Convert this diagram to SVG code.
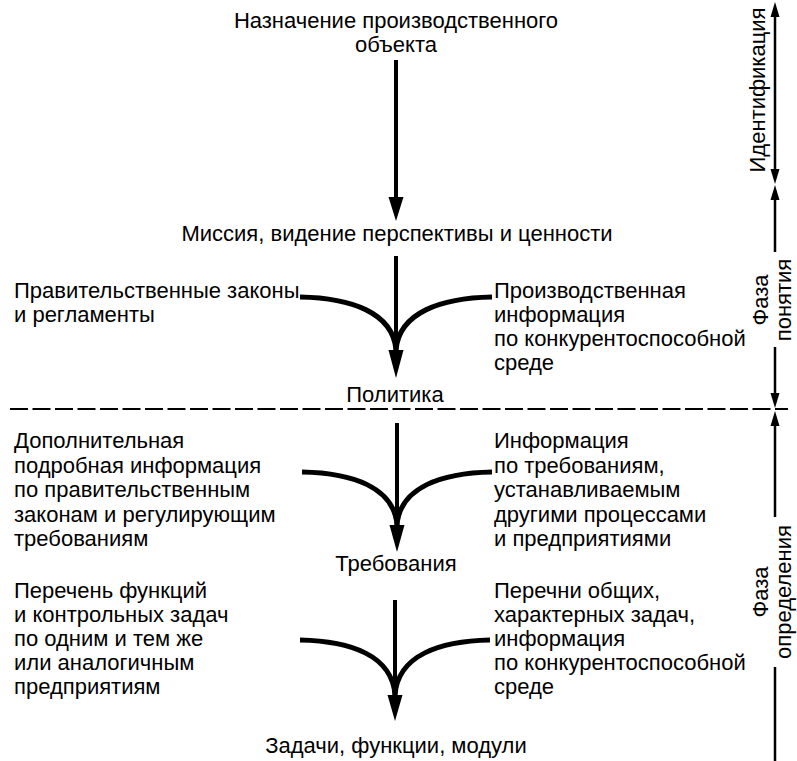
<svg xmlns="http://www.w3.org/2000/svg" width="797" height="761" viewBox="0 0 797 761">
<style>
text{font-family:"Liberation Sans",Arial,sans-serif;font-size:22px;fill:#000}
.c{text-anchor:middle}
.ln{stroke:#000;stroke-width:4;fill:none}
.cv{stroke:#000;stroke-width:5;fill:none}
.ax{stroke:#000;stroke-width:2.5;fill:none}
.hd{fill:#000}
</style>
<rect width="797" height="761" fill="#fff"/>
<g id="n-purpose"><text class="c" x="396" y="28">Назначение производственного</text><text class="c" x="396" y="52">объекта</text></g>
<g id="n-mission"><text class="c" x="397" y="241">Миссия, видение перспективы и ценности</text></g>
<g id="n-laws"><text x="14" y="298">Правительственные законы</text><text x="14" y="322">и регламенты</text></g>
<g id="n-prodinfo"><text x="494" y="298">Производственная</text><text x="494" y="322">информация</text><text x="494" y="346">по конкурентоспособной</text><text x="494" y="370">среде</text></g>
<g id="n-policy"><text class="c" x="395" y="402">Политика</text></g>
<g id="n-addinfo"><text x="14" y="448">Дополнительная</text><text x="14" y="472.5">подробная информация</text><text x="14" y="497">по правительственным</text><text x="14" y="521.5">законам и регулирующим</text><text x="14" y="546">требованиям</text></g>
<g id="n-reqinfo"><text x="494" y="448">Информация</text><text x="494" y="472.5">по требованиям,</text><text x="494" y="497">устанавливаемым</text><text x="494" y="521.5">другими процессами</text><text x="494" y="546">и предприятиями</text></g>
<g id="n-requirements"><text class="c" x="396" y="571">Требования</text></g>
<g id="n-funclist"><text x="14" y="598">Перечень функций</text><text x="14" y="622">и контрольных задач</text><text x="14" y="646">по одним и тем же</text><text x="14" y="670">или аналогичным</text><text x="14" y="694">предприятиям</text></g>
<g id="n-tasklist"><text x="494" y="598">Перечни общих,</text><text x="494" y="622">характерных задач,</text><text x="494" y="646">информация</text><text x="494" y="670">по конкурентоспособной</text><text x="494" y="694">среде</text></g>
<g id="n-tasks"><text class="c" x="396" y="753">Задачи, функции, модули</text></g>
<g id="phases">
<text class="c" transform="translate(765,90) rotate(-90)">Идентификация</text>
<text class="c" transform="translate(768,300) rotate(-90)">Фаза</text>
<text class="c" transform="translate(791,300) rotate(-90)">понятия</text>
<text class="c" transform="translate(768,592) rotate(-90)">Фаза</text>
<text class="c" transform="translate(791,592) rotate(-90)">определения</text>
</g>
<g id="connectors">
<line class="ln" x1="396" y1="60" x2="396" y2="200"/>
<polygon class="hd" points="388.5,197 403.5,197 396,221"/>
<line class="ln" x1="396" y1="256" x2="396" y2="352"/>
<path class="cv" d="M300,297 C350,298 393,312 396,350"/>
<path class="cv" d="M492,297 C442,298 399,312 396,350"/>
<polygon class="hd" points="388.5,350 403.5,350 396,378"/>
<line class="ln" x1="397" y1="423" x2="397" y2="527"/>
<path class="cv" d="M302,472 C352,473 394,487 397,525"/>
<path class="cv" d="M492,472 C442,473 400,487 397,525"/>
<polygon class="hd" points="389.5,525 404.5,525 397,552"/>
<line class="ln" x1="395" y1="600" x2="395" y2="697"/>
<path class="cv" d="M300,640 C350,641 392,655 395,695"/>
<path class="cv" d="M490,640 C440,641 398,655 395,695"/>
<polygon class="hd" points="387.5,695 402.5,695 395,721"/>
<line stroke="#000" stroke-width="2" stroke-dasharray="18 4.5" x1="10" y1="409" x2="788" y2="409"/>
<line class="ax" x1="775" y1="10" x2="775" y2="176"/>
<polygon class="hd" points="770.5,17 779.5,17 775,2"/>
<polygon class="hd" points="770.5,169 779.5,169 775,184"/>
<line class="ax" x1="775" y1="192" x2="775" y2="252"/>
<polygon class="hd" points="770.5,200 779.5,200 775,185"/>
<line class="ax" x1="775" y1="347" x2="775" y2="400"/>
<polygon class="hd" points="770.5,393 779.5,393 775,408"/>
<line class="ax" x1="775" y1="418" x2="775" y2="517"/>
<polygon class="hd" points="770.5,426 779.5,426 775,411"/>
<line class="ax" x1="775" y1="667" x2="775" y2="761"/>
</g>
</svg>
